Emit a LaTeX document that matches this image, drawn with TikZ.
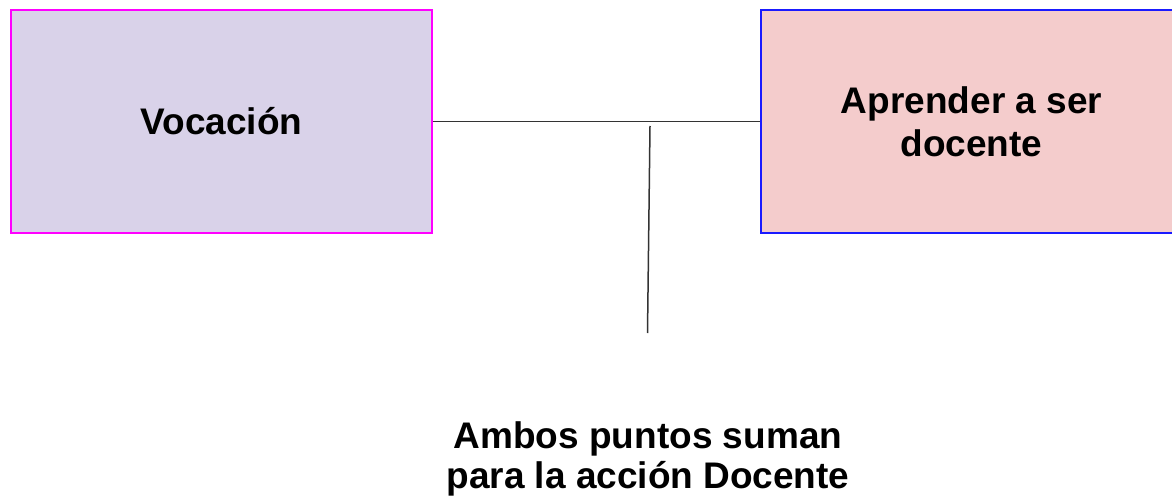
\documentclass[tikz,border=0pt]{standalone}
\usepackage{fontspec}
\setmainfont{Liberation Sans}
\definecolor{lilac}{HTML}{D9D2E9}
\definecolor{rosa}{HTML}{F4CCCC}
\definecolor{mag}{HTML}{FF00FF}
\definecolor{azul}{HTML}{1A1AFF}
\tikzset{
  box/.style={draw, line width=1.6pt, minimum width=421pt, minimum height=223pt, inner sep=0pt, align=center, font=\fontsize{37}{43}\selectfont\bfseries},
  conn/.style={draw=black!80, line width=1.5pt},
  lbl/.style={align=center, inner sep=0pt, font=\fontsize{37}{40}\selectfont\bfseries}
}
\begin{document}
\begin{tikzpicture}[x=1pt,y=-1pt]
\useasboundingbox (0,0) rectangle (1172,497);
\clip (0,0) rectangle (1172,497);
\node[box, fill=lilac, draw=mag] (voc) at (221.5,121.5) {Vocación};
\node[box, fill=rosa, draw=azul] (apr) at (971.5,121.5) {Aprender a ser\\docente};
\draw[conn] (voc.east) -- (apr.west);
\coordinate (vtop) at (650,126);
\coordinate (vbot) at (647.5,333);
\draw[conn] (vtop) -- (vbot);
\node[lbl] (amb) at (648,459) {Ambos puntos suman\\para la acción Docente};
\end{tikzpicture}
\end{document}
